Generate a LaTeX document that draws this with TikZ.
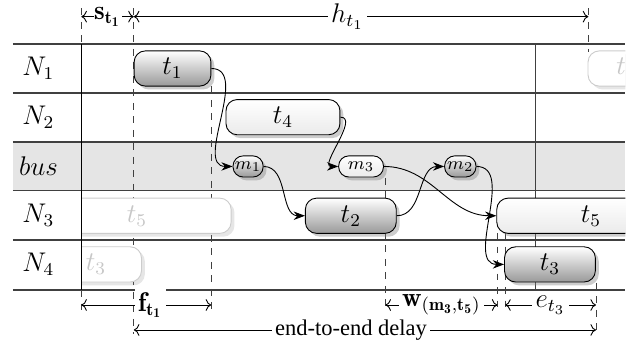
\documentclass[tikz,border=0pt]{standalone}
\usepackage{fontspec}
\newfontfamily\timesfont{Liberation Serif}
\usetikzlibrary{positioning, shapes, arrows.meta, shadows}

\tikzset{
  rowline/.style={draw=black!75, line width=0.6pt},
  rowname/.style={font=\large},
  guide/.style={dashed, black!75},
  spanarrow/.style={{To}-{To}, thin},
  spanlabel/.style={fill=white, inner sep=1.5pt, font=\large},
  boxbase/.style={draw, rounded corners=5pt, minimum height=0.55cm, inner sep=0pt, font=\large},
  shadowed/.style={drop shadow={shadow xshift=1.5pt, shadow yshift=-1.5pt, opacity=0.4}},
  busy/.style={boxbase, shadowed, top color=white, bottom color=black!40},
  idle/.style={boxbase, shadowed, top color=white, bottom color=black!8},
  ghost/.style={boxbase, draw=black!20, text=black!22, fill=white,
    drop shadow={shadow xshift=1.5pt, shadow yshift=-1.5pt, opacity=0.2}},
  msg/.style={minimum height=0.33cm, rounded corners=4.5pt, font=\footnotesize},
  link/.style={-{Stealth[length=5pt]}, thin}
}

\begin{document}
\begin{tikzpicture}
  \useasboundingbox (0,0) rectangle (9.95,5.42);

  % bus band and rows
  \fill[black!10] (0.2,2.44) rectangle (9.77,3.2);
  \foreach \y in {4.73,3.97,3.2,2.44,1.67,0.89}
    \draw[rowline] (0.2,\y) -- (9.77,\y);
  \draw[black!75] (8.36,4.73) -- (8.36,0.89);

  \node[rowname] (n1) at (0.6,4.35) {$N_1$};
  \node[rowname] (n2) at (0.6,3.59) {$N_2$};
  \node[rowname] (bus) at (0.6,2.82) {$bus$};
  \node[rowname] (n3) at (0.6,2.05) {$N_3$};
  \node[rowname] (n4) at (0.6,1.29) {$N_4$};

  % guide lines
  \draw[guide] (1.27,5.29) -- (1.27,4.73);
  \draw[guide] (1.27,0.89) -- (1.27,0.55);
  \draw[guide] (2.09,5.29) -- (2.09,0.2);
  \draw[guide] (9.19,5.29) -- (9.19,4.61);
  \draw[guide] (3.30,4.07) -- (3.30,0.55);
  \draw[guide] (6.02,2.64) -- (6.02,0.55);
  \draw[guide] (7.77,1.78) -- (7.77,0.55);
  \draw[guide] (7.89,1.78) -- (7.89,0.55);
  \draw[guide] (9.31,1.0) -- (9.31,0.2);

  % tasks and messages
  \begin{scope}
    \clip (1.27,0.6) rectangle (9.77,4.9);
    \node[ghost, minimum width=2.94cm] (t5a) at (2.14,2.05) {$t_5$};
    \node[ghost, minimum width=1.42cm] (t3a) at (1.50,1.29) {$t_3$};
    \node[ghost, minimum width=1.2cm] (t1b) at (9.785,4.35) {$t_1$};
    \node[busy, minimum width=1.2cm] (t1) at (2.695,4.35) {$t_1$};
    \node[idle, minimum width=1.78cm] (t4) at (4.42,3.59) {$t_4$};
    \node[busy, minimum width=1.42cm] (t2) at (5.48,2.05) {$t_2$};
    \node[idle, minimum width=2.94cm] (t5) at (9.23,2.05) {$t_5$};
    \node[busy, minimum width=1.42cm] (t3) at (8.59,1.29) {$t_3$};
    \node[busy, msg, minimum width=0.47cm] (m1) at (3.875,2.82) {$m_1$};
    \node[idle, msg, minimum width=0.70cm] (m3) at (5.64,2.82) {$m_3$};
    \node[busy, msg, minimum width=0.49cm] (m2) at (7.19,2.82) {$m_2$};
  \end{scope}
  \draw (1.27,4.73) -- (1.27,0.89);

  % precedence links
  \draw[link] (t1.east) to[out=0,in=180] (m1.west);
  \draw[link] (t4.east) to[out=0,in=180] (m3.west);
  \draw[link] (m1.east) to[out=0,in=180] (t2.west);
  \draw[link] (t2.east) to[out=0,in=180] (m2.west);
  \draw[link] (m3.east) to[out=0,in=180] (t5.west);
  \draw[link] (m2.east) to[out=0,in=180] (t3.west);

  % spans
  \coordinate (s0) at (1.27,5.16);
  \coordinate (s1) at (2.09,5.16);
  \coordinate (h1) at (9.19,5.16);
  \coordinate (f0) at (1.27,0.656);
  \coordinate (f1) at (3.30,0.656);
  \coordinate (w0) at (6.02,0.656);
  \coordinate (w1) at (7.77,0.656);
  \coordinate (e0) at (7.89,0.656);
  \coordinate (e1) at (9.31,0.656);
  \coordinate (d0) at (2.09,0.266);
  \coordinate (d1) at (9.31,0.266);

  \draw[spanarrow] (s0) -- node[spanlabel, inner sep=0.3pt] (slbl) {$\mathbf{s_{t_1}}$} (s1);
  \draw[spanarrow] (s1) -- node[spanlabel, pos=0.47] (hlbl) {$h_{t_1}$} (h1);
  \draw[spanarrow] (f0) -- node[spanlabel, pos=0.53] (flbl) {$\mathbf{f_{t_1}}$} (f1);
  \draw[spanarrow] (w0) -- node[spanlabel] (wlbl) {$\mathbf{w_{(m_3,t_5)}}$} (w1);
  \draw[spanarrow] (e0) -- node[spanlabel] (elbl) {$e_{t_3}$} (e1);
  \draw[spanarrow] (d0) -- node[spanlabel, pos=0.47, font=\normalsize] (dlbl) {\timesfont end-to-end delay} (d1);
\end{tikzpicture}
\end{document}
